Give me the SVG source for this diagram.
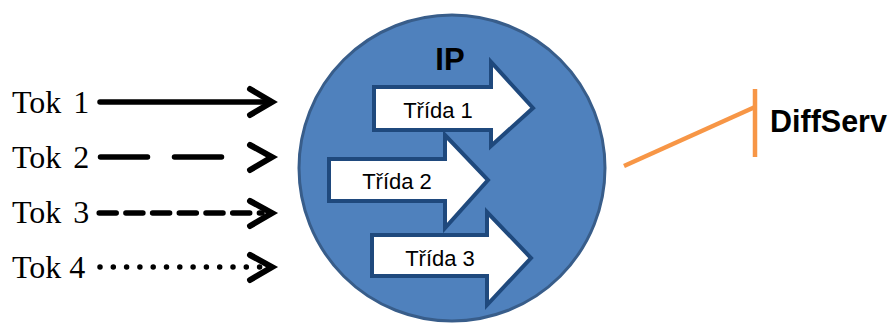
<svg xmlns="http://www.w3.org/2000/svg" width="893" height="325" viewBox="0 0 893 325">
  <style>
    .tok { font-family: "Liberation Serif", "Times New Roman", serif; font-size: 32px; fill: #000; }
    .wide { word-spacing: 4px; }
    .flow { fill: none; stroke: #000; stroke-width: 5.5; stroke-linecap: round; }
    .chev { fill: none; stroke: #000; stroke-width: 6; stroke-linecap: round; stroke-linejoin: miter; }
    .cls { fill: #fff; stroke: #1f497d; stroke-width: 4; stroke-linejoin: miter; }
    .clsText { font-family: "Liberation Sans", Arial, sans-serif; font-size: 22px; fill: #000; text-anchor: middle; }
    .bold { font-family: "Liberation Sans", Arial, sans-serif; font-weight: bold; fill: #000; }
    .orange { fill: none; stroke: #f79646; stroke-width: 4.5; }
  </style>
  <rect width="893" height="325" fill="#fff"/>

  <!-- IP router circle -->
  <g id="ip">
    <circle cx="452" cy="168" r="153" fill="#4f81bd" stroke="#385d8a" stroke-width="3"/>
    <text class="bold" x="450" y="70" font-size="31" text-anchor="middle">IP</text>
  </g>

  <!-- traffic classes -->
  <g id="trida1">
    <path class="cls" d="M374,87 H491 V62 L533,108 L491,146 V130 H374 Z"/>
    <text class="clsText" x="438" y="118">Třída 1</text>
  </g>
  <g id="trida2">
    <path class="cls" d="M329,159 H445 V135 L488,180 L445,228 V201 H329 Z"/>
    <text class="clsText" x="397" y="189">Třída 2</text>
  </g>
  <g id="trida3">
    <path class="cls" d="M372,235 H487 V212 L531,258 L487,305 V276 H372 Z"/>
    <text class="clsText" x="440" y="266">Třída 3</text>
  </g>

  <!-- flows -->
  <g id="tok1"><text class="tok wide" x="12" y="113">Tok 1</text></g>
  <g id="tok2"><text class="tok wide" x="12" y="168">Tok 2</text></g>
  <g id="tok3"><text class="tok wide" x="12" y="223">Tok 3</text></g>
  <g id="tok4"><text class="tok" x="12" y="278">Tok 4</text></g>

  <g id="connectors">
    <line class="flow" x1="100" y1="102" x2="270" y2="102"/>
    <polyline class="chev" points="250,89 272,102 250,115"/>

    <line class="flow" x1="100.5" y1="157" x2="230" y2="157" stroke-dasharray="47 27"/>
    <polyline class="chev" points="250,145 272,157 250,170"/>

    <line class="flow" x1="99.2" y1="213" x2="262" y2="213" stroke-dasharray="17 9.7"/>
    <polyline class="chev" points="250,201 272,213 250,226"/>

    <line class="flow" x1="100" y1="267" x2="260" y2="267" stroke-width="6.5" stroke-dasharray="0 13.3"/>
    <polyline class="chev" points="250,255 272,267 250,280"/>

    <!-- DiffServ callout -->
    <line class="orange" x1="624" y1="166" x2="755" y2="107"/>
    <line class="orange" x1="755" y1="89" x2="755" y2="157"/>
  </g>

  <g id="diffserv">
    <text class="bold" x="770" y="132" font-size="30.5">DiffServ</text>
  </g>
</svg>
